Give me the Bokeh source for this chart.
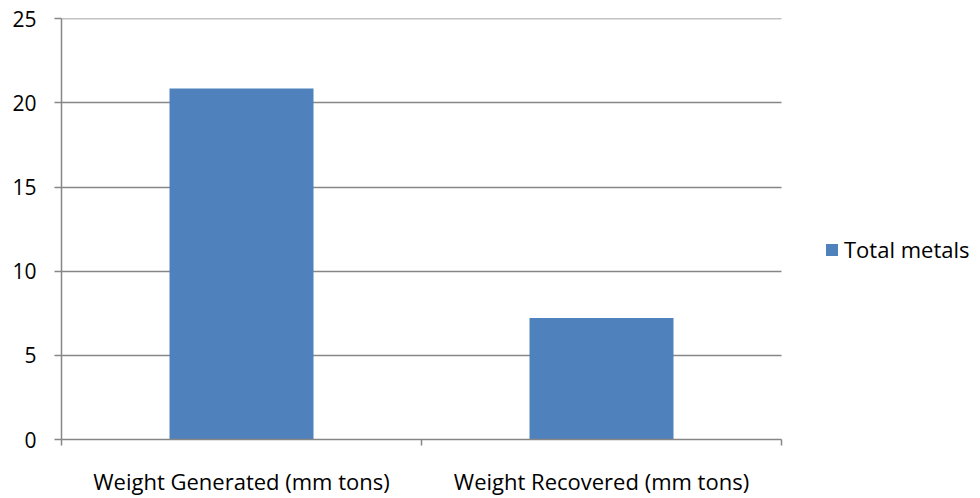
from bokeh.plotting import figure
from bokeh.models import ColumnDataSource, FixedTicker, Legend, LegendItem, Range1d
from bokeh.embed import file_html
from bokeh.resources import INLINE

categories = ["Weight Generated (mm tons)", "Weight Recovered (mm tons)"]
values = [20.85, 7.22]
series_name = "Total metals"
y_ticks = [0, 5, 10, 15, 20, 25]

positions = [i + 0.5 for i in range(len(categories))]
src = ColumnDataSource(dict(x=positions, top=values, cat=categories))

FONT = "Open Sans"
GRAY = "#868686"

W, H = 980, 498
LEFT, TOP, BOTTOM = 61, 18, 51
AXIS_PX = 720  # pixel length of the category axis
n = len(categories)
x_end = n * (W - LEFT) / AXIS_PX  # frame extends to the right edge; grid/axis are bounded to [0, n]
y_max = y_ticks[-1]

p = figure(width=W, height=H, output_backend="svg", toolbar_location=None,
           x_range=Range1d(0, x_end), y_range=Range1d(0, y_max + 0.01),
           min_border_left=LEFT, min_border_right=0, min_border_top=TOP, min_border_bottom=BOTTOM)
p.outline_line_color = None

# horizontal grid lines limited to the category span
grid_ok = True
try:
    p.ygrid.cross_bounds = (0, n)
except Exception:
    grid_ok = False

if grid_ok:
    p.ygrid.ticker = FixedTicker(ticks=y_ticks)
    p.ygrid.grid_line_color = GRAY
    p.ygrid.grid_line_width = 1.5
else:
    p.ygrid.grid_line_color = None
    gsrc = ColumnDataSource(dict(x0=[0] * len(y_ticks), x1=[n] * len(y_ticks), y=y_ticks))
    p.segment(x0="x0", y0="y", x1="x1", y1="y", source=gsrc, line_color=GRAY, line_width=1.5)

r = p.vbar(x="x", top="top", width=0.4, source=src, fill_color="#4F81BD", line_color=None)

# y axis
p.yaxis.bounds = (0, y_max)
p.yaxis.ticker = FixedTicker(ticks=y_ticks)
p.yaxis.axis_line_color = GRAY
p.yaxis.axis_line_width = 1.5
p.yaxis.major_tick_line_color = GRAY
p.yaxis.major_tick_line_width = 1.5
p.yaxis.major_tick_out = 7
p.yaxis.major_tick_in = 0
p.yaxis.minor_tick_line_color = None
p.yaxis.major_label_standoff = 18
p.yaxis.major_label_text_font = FONT
p.yaxis.major_label_text_font_size = "21px"
p.yaxis.major_label_text_color = "#000000"

# x axis
p.xaxis.bounds = (0, n)
p.xaxis.ticker = FixedTicker(ticks=positions, minor_ticks=list(range(n + 1)))
p.xaxis.major_label_overrides = {pos: c for pos, c in zip(positions, categories)}
p.xaxis.axis_line_color = GRAY
p.xaxis.axis_line_width = 1.5
p.xaxis.major_tick_line_color = None
p.xaxis.major_tick_out = 0
p.xaxis.major_tick_in = 0
p.xaxis.minor_tick_line_color = GRAY
p.xaxis.minor_tick_line_width = 1.5
p.xaxis.minor_tick_out = 6
p.xaxis.minor_tick_in = 0
p.xaxis.major_label_standoff = 20
p.xaxis.major_label_text_font = FONT
p.xaxis.major_label_text_font_size = "22px"
p.xaxis.major_label_text_color = "#000000"

p.xgrid.grid_line_color = None

legend = Legend(items=[LegendItem(label=series_name, renderers=[r])],
                location=(763, 175), orientation="vertical",
                label_text_font=FONT, label_text_font_size="22px",
                label_text_color="#000000",
                glyph_width=15, glyph_height=15, label_standoff=5,
                padding=0, margin=0, border_line_color=None,
                background_fill_alpha=0)
p.add_layout(legend, "center")

open("out.html", "w").write(file_html(p, INLINE))
